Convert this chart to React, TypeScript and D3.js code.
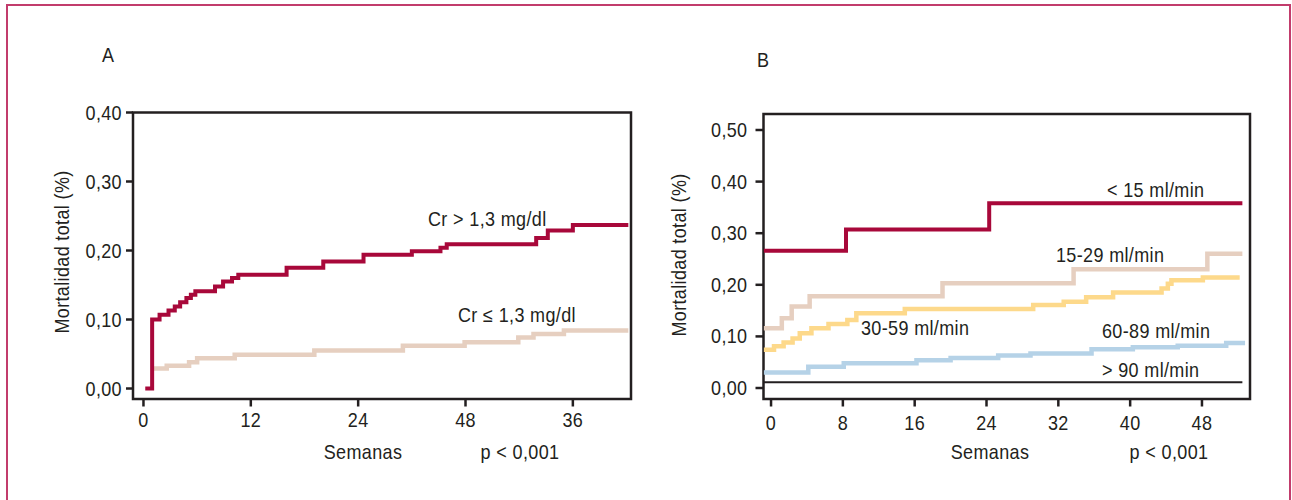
import React from 'react';
import * as d3 from 'd3';

// panel A: Cr > 1,3 mg/dl vs Cr <= 1,3 mg/dl
const crHighWeeks = [0.2, 0.97, 1.8, 2.8, 3.5, 4.1, 4.8, 5.3, 5.8, 8.0, 8.9, 9.9, 10.6, 16.0, 20.1, 24.6, 30.0, 33.2, 33.9, 43.9, 45.2, 48.0, 54.2];
const crHighRisk = [0, 0.1, 0.107, 0.113, 0.119, 0.125, 0.131, 0.136, 0.141, 0.148, 0.155, 0.16, 0.165, 0.175, 0.184, 0.194, 0.199, 0.204, 0.209, 0.218, 0.229, 0.237, 0.237];
const crLowWeeks = [1.1, 2.6, 5.1, 6.0, 10.2, 19.1, 29.0, 35.9, 41.9, 43.6, 47.0, 54.2];
const crLowRisk = [0.029, 0.033, 0.038, 0.044, 0.049, 0.055, 0.062, 0.067, 0.074, 0.079, 0.084, 0.084];

// panel B: filtrado glomerular
const lt15Weeks = [-0.8, 8.35, 24.3, 52.5];
const lt15Risk = [0.266, 0.307, 0.358, 0.358];
const g15Weeks = [-0.8, 1.2, 2.3, 4.3, 19.1, 33.7, 48.6, 52.5];
const g15Risk = [0.116, 0.135, 0.158, 0.178, 0.203, 0.23, 0.26, 0.26];
const g30Weeks = [-0.8, 0.33, 1.4, 2.4, 3.2, 4.5, 6.4, 8.5, 9.5, 14.9, 29.2, 32.6, 35.1, 38.1, 43.5, 44.2, 44.6, 48.1, 52.2];
const g30Risk = [0.074, 0.081, 0.088, 0.096, 0.106, 0.116, 0.124, 0.132, 0.145, 0.153, 0.161, 0.167, 0.176, 0.185, 0.193, 0.202, 0.209, 0.214, 0.214];
const g60Weeks = [-0.8, 4.15, 8.1, 16.2, 20.0, 25.3, 28.9, 35.7, 40.3, 45.3, 50.7, 52.8];
const g60Risk = [0.03, 0.041, 0.048, 0.054, 0.058, 0.063, 0.067, 0.075, 0.079, 0.082, 0.087, 0.087];
const g90Weeks = [-0.8, 52.5];
const g90Risk = [0.011, 0.011];

const ticksA = [0, 0.1, 0.2, 0.3, 0.4];
const ticksB = [0, 0.1, 0.2, 0.3, 0.4, 0.5];
const weekTicksA = [0, 12, 24, 36, 48];
const weekLabelsA = ['0', '12', '24', '48', '36'];
const weekTicksB = [0, 8, 16, 24, 32, 40, 48];

const INK = '#231f20';
const RED = '#a8083a';
const TAN = '#e6cfc0';
const YELLOW = '#fdd98b';
const BLUE = '#b5d2e7';

const comma = (v: number) => d3.format('.2f')(v).replace('.', ',');
const zip = (w: number[], r: number[]) => w.map((d, i) => [d, r[i]] as [number, number]);

// condensed look: squeeze Liberation Sans horizontally
function T({ x, y, anchor, rot, children }: any) {
  return (
    <text transform={`translate(${x},${y})${rot ? ' rotate(-90)' : ''} scale(0.9,1)`} textAnchor={anchor || 'start'}>
      {children}
    </text>
  );
}

function Panel({ x, y, yTicks, xTicks, xLabels, tickLen, labelGap, xLabelY, letter, letterX, letterY, ylabX, ylabY, xTitleX, pX, children }: any) {
  const [x0, x1] = x.range();
  const [yb, yt] = y.range();
  return (
    <g>
      <rect x={x0} y={yt} width={x1 - x0} height={yb - yt} fill="none" stroke={INK} strokeWidth={2.5} />
      {yTicks.map((t: number) => (
        <g key={'y' + t}>
          <line x1={x0 - tickLen} x2={x0} y1={y(t)} y2={y(t)} stroke={INK} strokeWidth={2.5} />
          <T x={x0 - tickLen - labelGap} y={y(t) + 7} anchor="end">{comma(t)}</T>
        </g>
      ))}
      {xTicks.map((t: number, i: number) => (
        <g key={'x' + t}>
          <line x1={x(t)} x2={x(t)} y1={yb} y2={yb + 7.5} stroke={INK} strokeWidth={2.5} />
          <T x={x(t)} y={xLabelY} anchor="middle">{xLabels ? xLabels[i] : String(t)}</T>
        </g>
      ))}
      <T x={letterX} y={letterY}>{letter}</T>
      <T x={ylabX} y={ylabY} rot anchor="middle">Mortalidad total (%)</T>
      <T x={xTitleX} y={459} anchor="middle">Semanas</T>
      <T x={pX} y={459} anchor="middle">p &lt; 0,001</T>
      {children}
    </g>
  );
}

export default function App() {
  const xA = d3.scaleLinear().domain([-1.17, 54.5]).range([133, 631]);
  const yA = d3.scaleLinear().domain([-0.0152, 0.4]).range([399, 112.5]);
  const xB = d3.scaleLinear().domain([-0.84, 53.35]).range([763.5, 1250]);
  const yB = d3.scaleLinear().domain([-0.0213, 0.531]).range([399, 114]);

  const lineA = d3.line<[number, number]>().x(d => xA(d[0])).y(d => yA(d[1])).curve(d3.curveStepAfter);
  const lineB = d3.line<[number, number]>().x(d => xB(d[0])).y(d => yB(d[1])).curve(d3.curveStepAfter);

  return (
    <svg width={1292} height={500} style={{ position: 'absolute', left: 0, top: 0, background: '#fff' }}
      fontFamily="'Liberation Sans', Arial, sans-serif" fontSize={20} letterSpacing={0.4} fill="#231f20">
      <rect x={7} y={5} width={1283} height={520} fill="none" stroke="#c23c6c" strokeWidth={2} />

      <Panel x={xA} y={yA} yTicks={ticksA} xTicks={weekTicksA} xLabels={weekLabelsA} tickLen={7} labelGap={4}
        xLabelY={427} letter="A" letterX={102} letterY={62} ylabX={69} ylabY={252} xTitleX={363} pX={520}>
        <path d={lineA(zip(crLowWeeks, crLowRisk)) || ''} fill="none" stroke={TAN} strokeWidth={4.5} />
        <path d={lineA(zip(crHighWeeks, crHighRisk)) || ''} fill="none" stroke={RED} strokeWidth={4} />
        <T x={428} y={226}>Cr &gt; 1,3 mg/dl</T>
        <T x={458} y={322}>Cr ≤ 1,3 mg/dl</T>
      </Panel>

      <Panel x={xB} y={yB} yTicks={ticksB} xTicks={weekTicksB} tickLen={8} labelGap={8}
        xLabelY={430} letter="B" letterX={757} letterY={67} ylabX={686} ylabY={255} xTitleX={990} pX={1169}>
        <path d={lineB(zip(g90Weeks, g90Risk)) || ''} fill="none" stroke={INK} strokeWidth={2} />
        <path d={lineB(zip(g60Weeks, g60Risk)) || ''} fill="none" stroke={BLUE} strokeWidth={4.5} />
        <path d={lineB(zip(g30Weeks, g30Risk)) || ''} fill="none" stroke={YELLOW} strokeWidth={4.5} />
        <path d={lineB(zip(g15Weeks, g15Risk)) || ''} fill="none" stroke={TAN} strokeWidth={4.5} />
        <path d={lineB(zip(lt15Weeks, lt15Risk)) || ''} fill="none" stroke={RED} strokeWidth={4} />
        <T x={1107} y={197}>&lt; 15 ml/min</T>
        <T x={1056} y={262}>15-29 ml/min</T>
        <T x={861} y={335}>30-59 ml/min</T>
        <T x={1102} y={338}>60-89 ml/min</T>
        <T x={1102} y={377}>&gt; 90 ml/min</T>
      </Panel>
    </svg>
  );
}
